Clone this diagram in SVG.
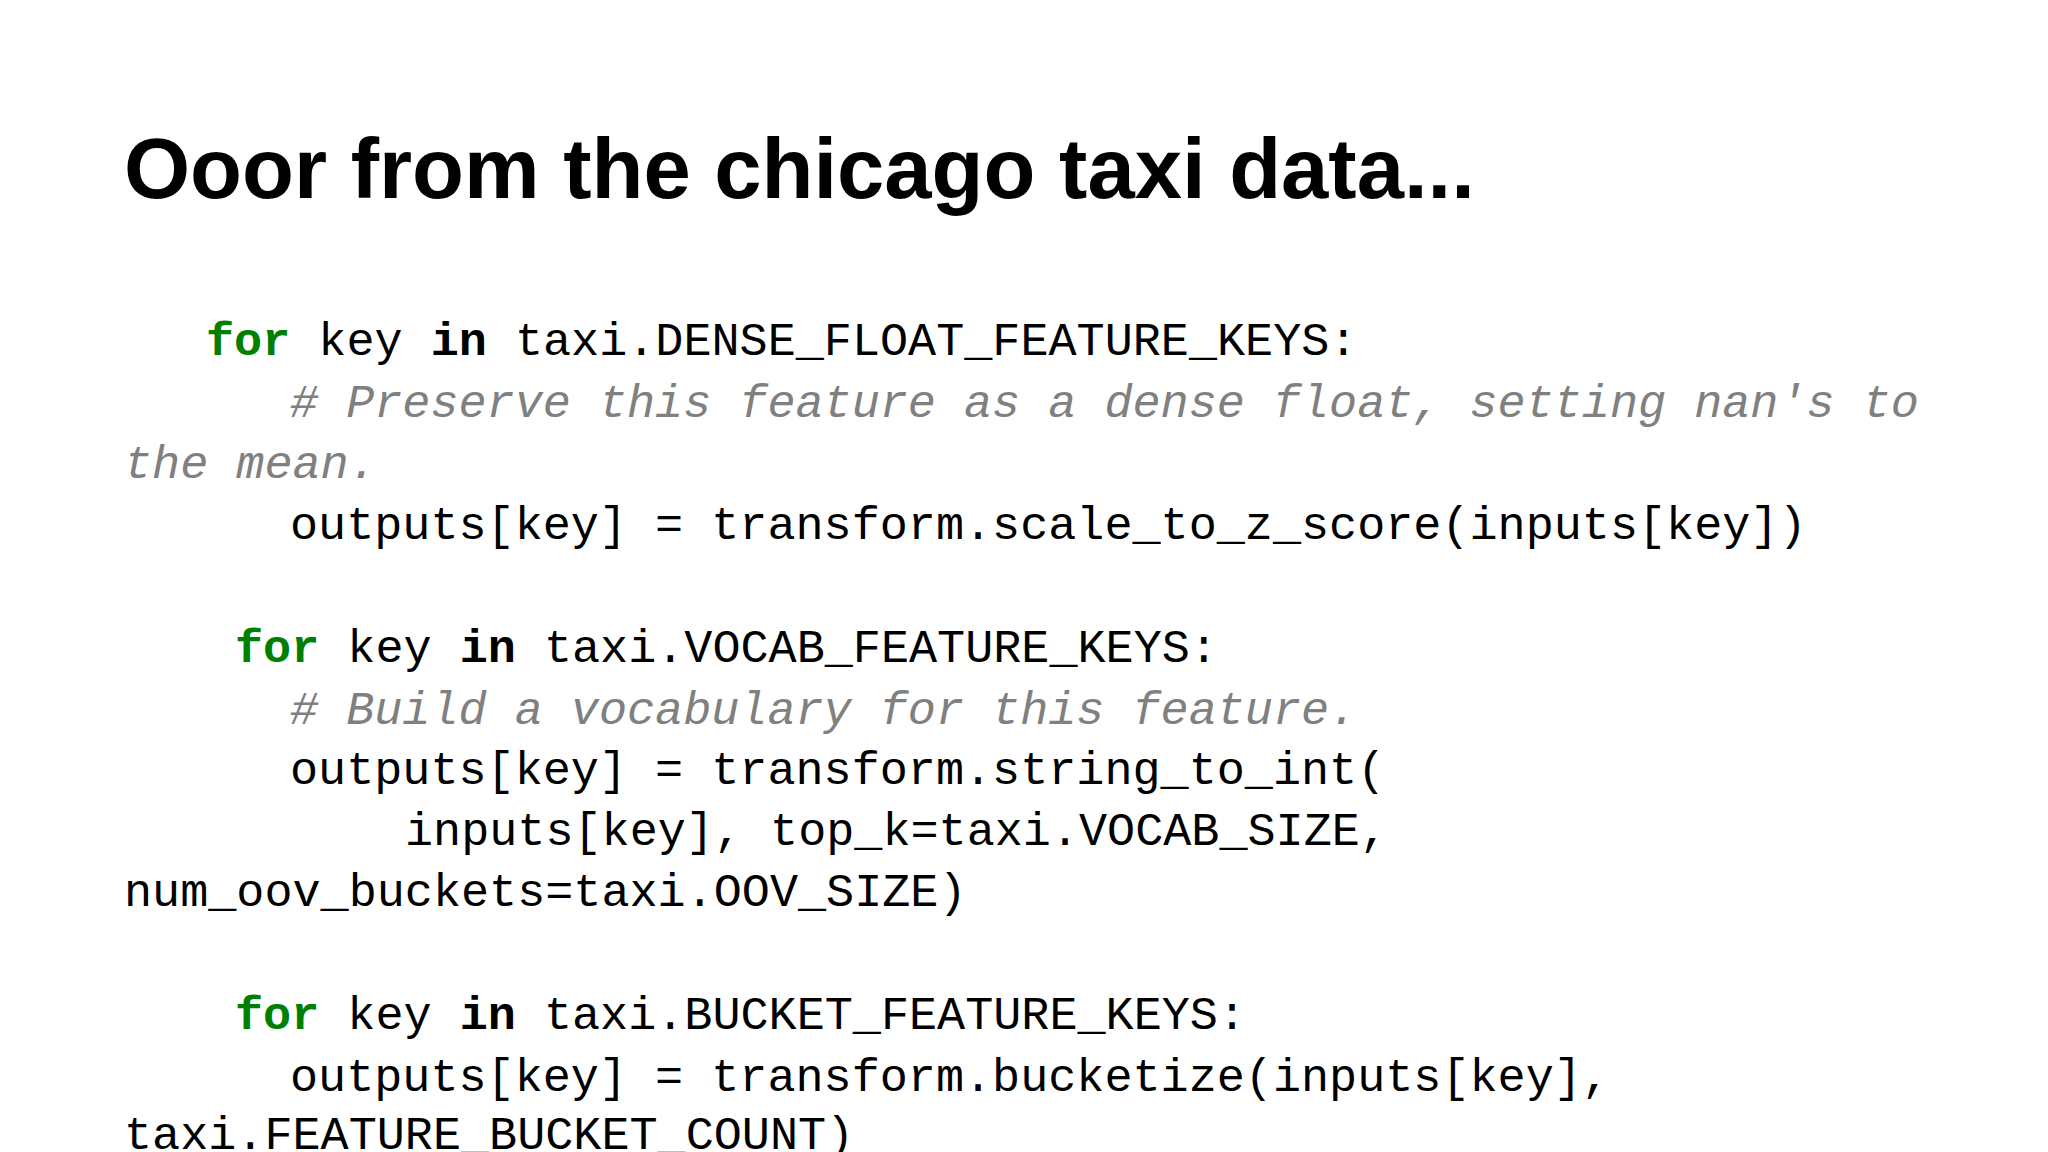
<svg xmlns="http://www.w3.org/2000/svg" width="2048" height="1152" viewBox="0 0 2048 1152">
<style>
.t{font-family:"Liberation Sans",Arial,sans-serif;font-weight:bold;font-size:85px;fill:#000}
.c{font-family:"Liberation Mono","DejaVu Sans Mono",monospace;font-size:46.8px;fill:#000;white-space:pre}
.k{fill:#008000;font-weight:bold}
.b{font-weight:bold}
.m{fill:#808080;font-style:italic}
</style>
<rect width="2048" height="1152" fill="#fff"/>
<g id="title"><text class="t" x="124" y="198">Ooor from the chicago taxi data...</text></g>
<g id="code">
<text class="c" x="206" y="355"><tspan class="k">for</tspan> key <tspan class="b">in</tspan> taxi.DENSE_FLOAT_FEATURE_KEYS:</text>
<text class="c m" x="290" y="417"># Preserve this feature as a dense float, setting nan's to</text>
<text class="c m" x="124" y="478">the mean.</text>
<text class="c" x="290" y="539">outputs[key] = transform.scale_to_z_score(inputs[key])</text>
<text class="c" x="235" y="662"><tspan class="k">for</tspan> key <tspan class="b">in</tspan> taxi.VOCAB_FEATURE_KEYS:</text>
<text class="c m" x="290" y="724"># Build a vocabulary for this feature.</text>
<text class="c" x="290" y="784">outputs[key] = transform.string_to_int(</text>
<text class="c" x="405" y="845">inputs[key], top_k=taxi.VOCAB_SIZE,</text>
<text class="c" x="124" y="906">num_oov_buckets=taxi.OOV_SIZE)</text>
<text class="c" x="235" y="1029"><tspan class="k">for</tspan> key <tspan class="b">in</tspan> taxi.BUCKET_FEATURE_KEYS:</text>
<text class="c" x="290" y="1091">outputs[key] = transform.bucketize(inputs[key],</text>
<text class="c" x="124" y="1149">taxi.FEATURE_BUCKET_COUNT)</text>
</g>
</svg>
